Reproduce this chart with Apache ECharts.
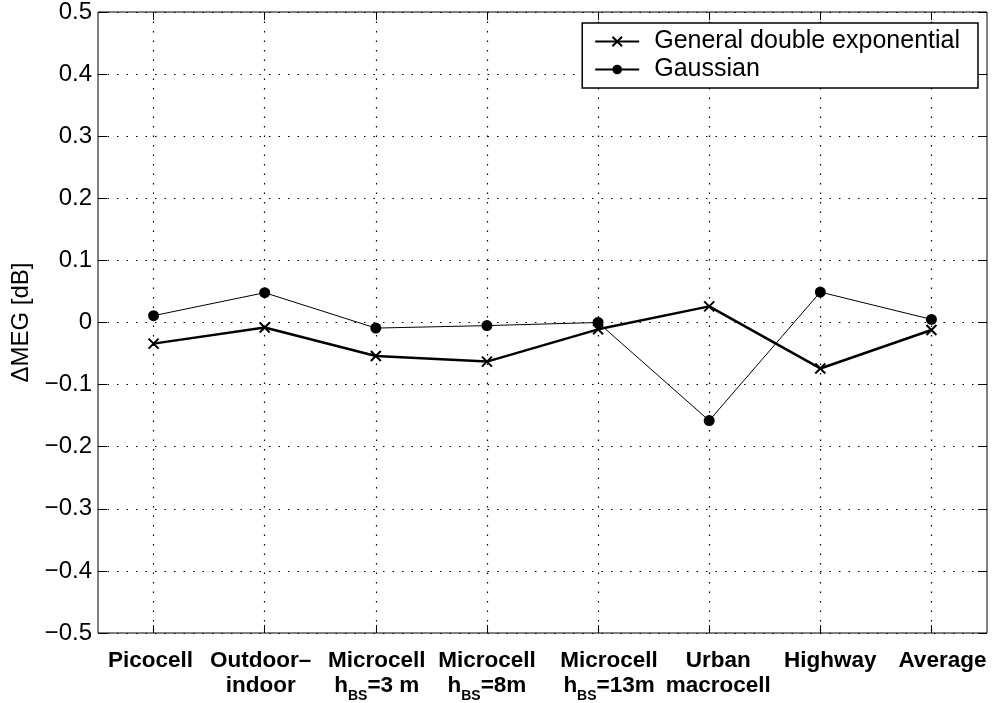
<!DOCTYPE html>
<html>
<head>
<meta charset="utf-8">
<script src="https://cdn.jsdelivr.net/npm/echarts@6/dist/echarts.min.js"></script>
<style>
  html, body { margin: 0; padding: 0; background: #fff; }
  #chart { width: 994px; height: 703px; }
</style>
</head>
<body>
<div id="chart"></div>
<script>
// Scenario labels (rich text: {s|..} is a subscript)
const categories = [
  'Picocell',
  'Outdoor\u2013\nindoor',
  'Microcell\nh{s|BS}=3 m',
  'Microcell\nh{s|BS}=8m',
  'Microcell\nh{s|BS}=13m',
  'Urban\nmacrocell',
  'Highway',
  'Average'
];

// ΔMEG per scenario [dB]
const doubleExponential = [-0.034, -0.008, -0.054, -0.063, -0.011, 0.026, -0.074, -0.012];
const gaussian = [0.011, 0.048, -0.009, -0.005, 0.000, -0.158, 0.049, 0.005];

const yTicks = { min: -0.5, max: 0.5, step: 0.1 };

// horizontal nudge (px) of each tick label relative to its tick
const labelShift = [-3, -4, 1, 0, 11, 9, 10, 11];

const FONT = '"Liberation Sans", Arial, Helvetica, sans-serif';
const chart = echarts.init(document.getElementById('chart'), null, { renderer: 'canvas' });

const dotted = { color: '#000', width: 1.2, type: [1.5, 8] };

const fmtY = v => {
  const r = Math.round(v * 10) / 10;
  if (r === 0) return '0';
  return r.toFixed(1).replace('-', '\u2212');
};

const xData = categories.map((c, i) => {
  const d = labelShift[i];
  return {
    value: c,
    textStyle: { padding: d >= 0 ? [0, 0, 0, 2 * d] : [0, -2 * d, 0, 0] }
  };
});

chart.setOption({
  backgroundColor: '#fff',
  animation: false,
  textStyle: { fontFamily: FONT, color: '#000' },
  grid: {
    left: 98, right: 7, top: 12, bottom: 70,
    outerBoundsMode: 'none',
    containLabel: false,
    show: true, borderColor: '#000', borderWidth: 1, backgroundColor: 'transparent'
  },
  legend: {
    orient: 'vertical',
    right: 16, top: 23,
    backgroundColor: '#fff',
    borderColor: '#000', borderWidth: 1.5, borderRadius: 0,
    padding: [6, 18, 6, 12],
    itemWidth: 44, itemHeight: 12, itemGap: 3,
    textStyle: { fontSize: 25, fontFamily: FONT, color: '#000', padding: [0, 0, 0, 10] },
    data: ['General double exponential', 'Gaussian']
  },
  xAxis: [
    {
      type: 'category',
      data: xData,
      boundaryGap: true,
      axisLine: { show: false, onZero: false },
      axisTick: { show: true, inside: true, alignWithLabel: true, length: 8, lineStyle: { color: '#000' } },
      splitLine: { show: true, alignWithLabel: true, lineStyle: dotted },
      axisLabel: {
        interval: 0, margin: 15,
        fontSize: 22.5, fontWeight: 'bold', color: '#000', fontFamily: FONT, lineHeight: 25,
        rich: {
          s: { fontSize: 14, fontWeight: 'bold', color: '#000', fontFamily: FONT, padding: [22, 0, 0, 0], lineHeight: 25 }
        }
      }
    },
    {
      type: 'category',
      position: 'top',
      data: categories,
      boundaryGap: true,
      axisLine: { show: false, onZero: false },
      axisTick: { show: true, inside: true, alignWithLabel: true, length: 8, lineStyle: { color: '#000' } },
      axisLabel: { show: false },
      splitLine: { show: false }
    }
  ],
  yAxis: [
    {
      type: 'value',
      min: yTicks.min, max: yTicks.max, interval: yTicks.step,
      name: '\u0394MEG [dB]',
      nameLocation: 'middle', nameGap: 64, nameRotate: 90,
      nameTextStyle: { fontSize: 24, fontFamily: FONT, color: '#000' },
      axisLine: { show: false, onZero: false },
      axisTick: { show: true, inside: true, length: 9, lineStyle: { color: '#000' } },
      splitLine: { show: true, lineStyle: dotted },
      axisLabel: { fontSize: 24, color: '#000', fontFamily: FONT, margin: 6, formatter: fmtY }
    },
    {
      type: 'value',
      position: 'right',
      min: yTicks.min, max: yTicks.max, interval: yTicks.step,
      axisLine: { show: false, onZero: false },
      axisTick: { show: true, inside: true, length: 9, lineStyle: { color: '#000' } },
      splitLine: { show: false },
      axisLabel: { show: false }
    }
  ],
  series: [
    {
      name: 'General double exponential',
      type: 'line',
      data: doubleExponential,
      symbol: 'path://M0,0L10,10M10,0L0,10',
      symbolSize: 10,
      showAllSymbol: true,
      lineStyle: { color: '#000', width: 2.5 },
      itemStyle: { color: 'rgba(0,0,0,0)', borderColor: '#000', borderWidth: 2 },
      z: 3
    },
    {
      name: 'Gaussian',
      type: 'line',
      data: gaussian,
      symbol: 'circle',
      symbolSize: 11,
      showAllSymbol: true,
      lineStyle: { color: '#000', width: 1 },
      itemStyle: { color: '#000', borderColor: '#000', borderWidth: 0 },
      z: 4
    }
  ]
});
</script>
</body>
</html>
